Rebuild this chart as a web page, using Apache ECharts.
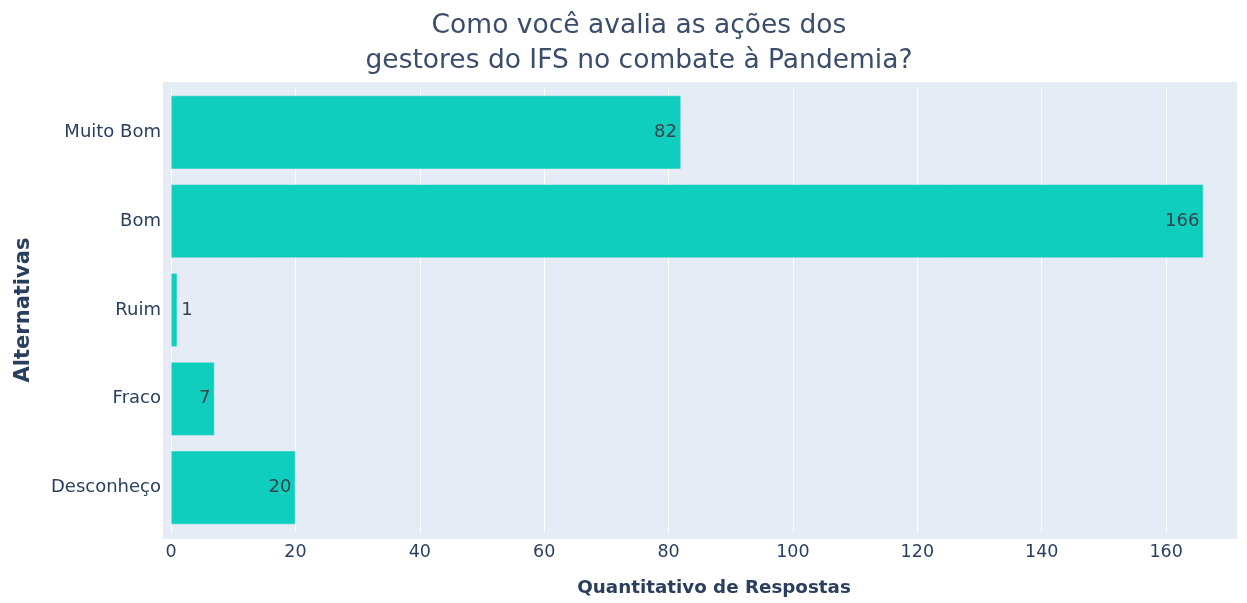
<!DOCTYPE html>
<html>
<head>
<meta charset="utf-8">
<script src="https://cdn.jsdelivr.net/npm/echarts@6/dist/echarts.min.js"></script>
<style>
    html, body { margin: 0; padding: 0; background: #fff; }
    #chart { width: 1247px; height: 603px; }
</style>
</head>
<body>
<div id="chart"></div>
<script>
// data
const categories = ["Muito Bom", "Bom", "Ruim", "Fraco", "Desconheço"];
const respostas = [82, 166, 1, 7, 20];

const TEXT = "#2a3f5f";
const FONT = "DejaVu Sans";
const chart = echarts.init(document.getElementById("chart"));

const option = {
    textStyle: { fontFamily: FONT },
    title: {
        text: "Como você avalia as ações dos\ngestores do IFS no combate à Pandemia?",
        left: 634,
        top: 4,
        textAlign: "center",
        textStyle: {
            fontFamily: FONT,
            fontSize: 26.5,
            fontWeight: "normal",
            color: "#3b4d6b",
            lineHeight: 35,
        },
    },
    // plot background (slightly wider than the value range, like the original)
    graphic: [
        {
            type: "rect",
            left: 163,
            top: 82,
            shape: { width: 1074, height: 457 },
            style: { fill: "#E5ECF6" },
            z: -10,
        },
    ],
    grid: {
        left: 171,
        right: 10,
        top: 88,
        bottom: 71,
        containLabel: false,
    },
    xAxis: {
        type: "value",
        min: 0,
        max: 171.4,
        interval: 20,
        name: "Quantitativo de Respostas",
        nameLocation: "middle",
        nameGap: 47,
        nameTextStyle: {
            fontFamily: FONT,
            fontSize: 18.3,
            fontWeight: "bold",
            color: TEXT,
            padding: [0, 0, 0, 20],
        },
        axisLine: { show: false },
        axisTick: { show: false },
        axisLabel: {
            fontFamily: FONT,
            fontSize: 17.5,
            color: TEXT,
            margin: 11,
            showMaxLabel: false,
        },
        splitLine: {
            show: true,
            showMaxLine: false,
            lineStyle: { color: "#ffffff", width: 1 },
        },
    },
    yAxis: {
        type: "category",
        data: categories,
        inverse: true,
        name: "Alternativas",
        nameLocation: "middle",
        nameGap: 137,
        nameTextStyle: {
            fontFamily: FONT,
            fontSize: 21,
            fontWeight: "bold",
            color: TEXT,
        },
        axisLine: { show: false },
        axisTick: { show: false },
        axisLabel: { fontFamily: FONT, fontSize: 18, color: TEXT, margin: 10 },
        splitLine: { show: false },
    },
    series: [
        {
            type: "bar",
            data: respostas.map((v) => ({
                value: v,
                // tiny bars get the label outside, like plotly's "auto"
                label: { position: v < 3 ? "right" : "insideRight" },
            })),
            barCategoryGap: "17%",
            itemStyle: {
                color: "#0fcebd",
                borderColor: "#E5ECF6",
                borderWidth: 0.5,
            },
            label: {
                show: true,
                fontFamily: FONT,
                fontSize: 18,
                color: "#37434a",
                distance: 4,
            },
        },
    ],
};

chart.setOption(option);
</script>
</body>
</html>
